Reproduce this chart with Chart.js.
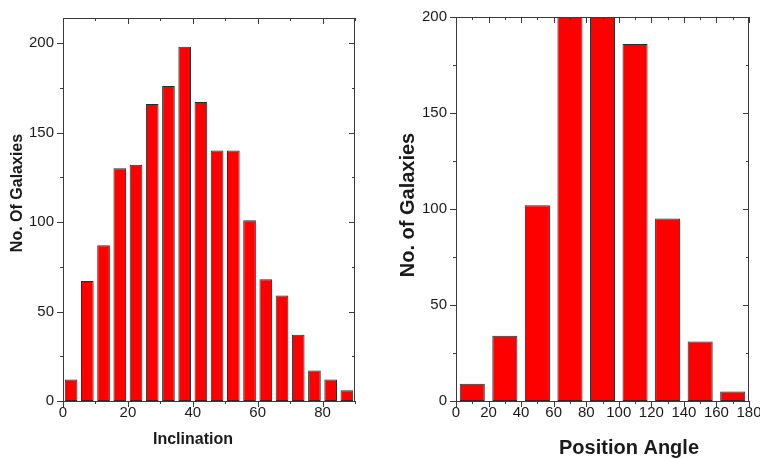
<!DOCTYPE html>
<html>
<head>
<meta charset="utf-8">
<title>Galaxy inclination and position angle</title>
<script src="https://cdn.jsdelivr.net/npm/chart.js@4.4.1/dist/chart.umd.min.js"></script>
<style>
  html, body { margin: 0; padding: 0; background: #ffffff; overflow: hidden; }
  #wrap { position: relative; width: 760px; height: 459px; }
  .panel { position: absolute; top: 0; width: 380px; height: 459px; }
  canvas { display: block; }
</style>
</head>
<body>
<div id="wrap">
  <div class="panel" style="left: 0;"><canvas id="incl-chart" width="380" height="459"></canvas></div>
  <div class="panel" style="left: 380px;"><canvas id="pa-chart" width="380" height="459"></canvas></div>
</div>
<script>
// Inclination histogram, 5 degree bins
const INCL_BIN_CENTERS = [2.5, 7.5, 12.5, 17.5, 22.5, 27.5, 32.5, 37.5, 42.5, 47.5, 52.5, 57.5, 62.5, 67.5, 72.5, 77.5, 82.5, 87.5];
const INCL_COUNTS = [12, 67, 87, 130, 132, 166, 176, 198, 167, 140, 140, 101, 68, 59, 37, 17, 12, 6];
const INCL_X_TICKS = [0, 20, 40, 60, 80];
const INCL_Y_TICKS = [0, 50, 100, 150, 200];

// Position angle histogram, 20 degree bins
const PA_BIN_CENTERS = [10, 30, 50, 70, 90, 110, 130, 150, 170];
const PA_COUNTS = [9, 34, 102, 200, 200, 186, 95, 31, 5];
const PA_X_TICKS = [0, 20, 40, 60, 80, 100, 120, 140, 160, 180];
const PA_Y_TICKS = [0, 50, 100, 150, 200];

const FRAME_COLOR = "#3a3a3a";
const TEXT_COLOR = "#1a1a1a";
const FONT_FAMILY = "'Liberation Sans', Arial, sans-serif";

// boxed axes drawn by hand: major/minor ticks, outward on bottom/left, inward on top/right
const frameAxes = {
  id: "frameAxes",
  afterDatasetsDraw(chart, args, opts) {
    const { ctx, chartArea: a } = chart;
    const x = chart.scales.x;
    const y = chart.scales.y;
    const major = 6;
    const minor = 3;

    ctx.save();
    ctx.strokeStyle = FRAME_COLOR;
    ctx.lineWidth = 1;
    ctx.strokeRect(a.left + 0.5, a.top + 0.5, a.right - a.left - 1, a.bottom - a.top);

    ctx.beginPath();
    for (let v = x.min; v <= x.max + 1e-9; v += opts.xMinorStep) {
      const px = Math.round(x.getPixelForValue(v)) + 0.5;
      const len = opts.xTicks.includes(v) ? major : minor;
      ctx.moveTo(px, a.bottom);
      ctx.lineTo(px, a.bottom + len);
      ctx.moveTo(px, a.top);
      ctx.lineTo(px, a.top + len);
    }
    for (let v = y.min; v <= y.max + 1e-9; v += opts.yMinorStep) {
      const py = Math.round(y.getPixelForValue(v)) + 0.5;
      const len = opts.yTicks.includes(v) ? major : minor;
      ctx.moveTo(a.left, py);
      ctx.lineTo(a.left - len, py);
      ctx.moveTo(a.right, py);
      ctx.lineTo(a.right - len, py);
    }
    ctx.stroke();

    ctx.fillStyle = TEXT_COLOR;
    ctx.font = opts.tickFont + " " + FONT_FAMILY;
    ctx.textAlign = "center";
    ctx.textBaseline = "middle";
    opts.xTicks.forEach((v) => {
      ctx.fillText(String(v), x.getPixelForValue(v), a.bottom + 12);
    });
    ctx.textAlign = "right";
    opts.yTicks.forEach((v) => {
      ctx.fillText(String(v), a.left - 9, y.getPixelForValue(v));
    });

    ctx.font = opts.titleFont + " " + FONT_FAMILY;
    ctx.textAlign = "center";
    ctx.fillText(opts.xTitle, opts.xTitlePos[0], opts.xTitlePos[1]);
    ctx.translate(opts.yTitlePos[0], opts.yTitlePos[1]);
    ctx.rotate(-Math.PI / 2);
    ctx.fillText(opts.yTitle, 0, 0);
    ctx.restore();
  }
};

function histogram(canvasId, centers, counts, cfg) {
  return new Chart(document.getElementById(canvasId), {
    type: "bar",
    data: {
      datasets: [{
        data: centers.map((c, i) => ({ x: c, y: counts[i] })),
        backgroundColor: "#ff0000",
        borderColor: "#2b2b2b",
        borderWidth: 1,
        borderSkipped: false,
        categoryPercentage: 1,
        barPercentage: cfg.barPercentage
      }]
    },
    options: {
      responsive: false,
      animation: false,
      devicePixelRatio: 1,
      layout: { padding: cfg.padding },
      scales: {
        x: { type: "linear", display: false, offset: false, min: cfg.xMin, max: cfg.xMax, ticks: { stepSize: cfg.xStep } },
        y: { type: "linear", display: false, min: 0, max: cfg.yMax }
      },
      plugins: {
        legend: { display: false },
        tooltip: { enabled: false },
        frameAxes: cfg.axes
      }
    },
    plugins: [frameAxes]
  });
}

histogram("incl-chart", INCL_BIN_CENTERS, INCL_COUNTS, {
  padding: { left: 63, right: 25, top: 18, bottom: 58 },
  xMin: 0, xMax: 90, xStep: 10, yMax: 214,
  barPercentage: 0.78,
  axes: {
    xTicks: INCL_X_TICKS, yTicks: INCL_Y_TICKS,
    xMinorStep: 10, yMinorStep: 25,
    tickFont: "15px", titleFont: "bold 16px",
    xTitle: "Inclination", xTitlePos: [193, 440],
    yTitle: "No. Of Galaxies", yTitlePos: [18, 193]
  }
});

histogram("pa-chart", PA_BIN_CENTERS, PA_COUNTS, {
  padding: { left: 76, right: 11, top: 17, bottom: 58 },
  xMin: 0, xMax: 180, xStep: 20, yMax: 200,
  barPercentage: 0.77,
  axes: {
    xTicks: PA_X_TICKS, yTicks: PA_Y_TICKS,
    xMinorStep: 10, yMinorStep: 25,
    tickFont: "15px", titleFont: "bold 20px",
    xTitle: "Position Angle", xTitlePos: [249, 448],
    yTitle: "No. of Galaxies", yTitlePos: [28, 205]
  }
});
</script>
</body>
</html>
